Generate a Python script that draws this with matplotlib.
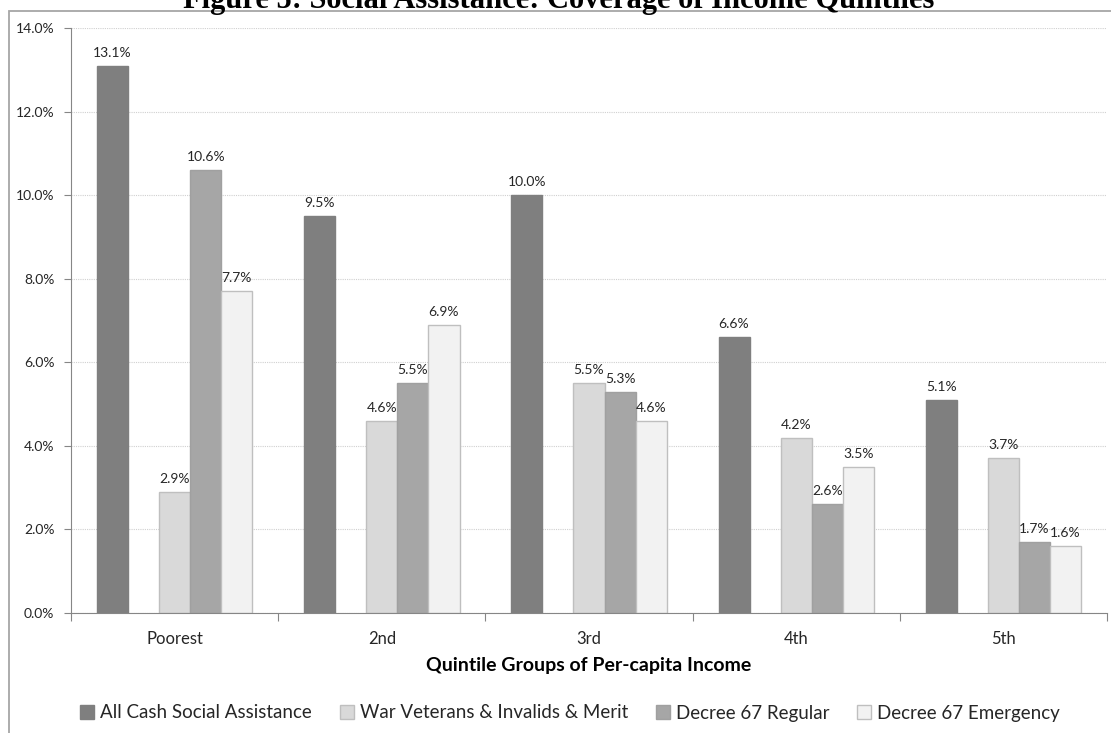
import matplotlib.pyplot as plt
from matplotlib.patches import Rectangle
from matplotlib.ticker import FixedLocator, FuncFormatter

quintiles = ["Poorest", "2nd", "3rd", "4th", "5th"]
all_cash = [13.1, 9.5, 10.0, 6.6, 5.1]
war_veterans = [2.9, 4.6, 5.5, 4.2, 3.7]
decree67_regular = [10.6, 5.5, 5.3, 2.6, 1.7]
decree67_emergency = [7.7, 6.9, 4.6, 3.5, 1.6]

series = [
    ("All Cash Social Assistance", all_cash, -0.30, "#7f7f7f", "#7f7f7f"),
    ("War Veterans & Invalids & Merit", war_veterans, 0.0, "#d9d9d9", "#bfbfbf"),
    ("Decree 67 Regular", decree67_regular, 0.15, "#a6a6a6", "#a0a0a0"),
    ("Decree 67 Emergency", decree67_emergency, 0.30, "#f2f2f2", "#bfbfbf"),
]

plt.rcParams["font.family"] = ["Lato", "DejaVu Sans"]
txt = "#262626"

fig = plt.figure(figsize=(11.11, 7.33), dpi=100)
ax = fig.add_axes([71 / 1111, 1 - 613 / 733, (1107 - 71) / 1111, (613 - 28) / 733])

# outer chart frame (cut off at right and bottom)
fig.patches.append(Rectangle((9 / 1111, -0.05), 1.1, 1 - 11 / 733 + 0.05,
                             transform=fig.transFigure, fill=False,
                             edgecolor="#a6a6a6", linewidth=1.3, zorder=0))

x = list(range(len(quintiles)))
width = 0.15
for name, vals, off, fc, ec in series:
    bars = ax.bar([i + off for i in x], vals, width, color=fc, edgecolor=ec,
                  linewidth=1, label=name, zorder=2)
    ax.bar_label(bars, labels=[f"{v:.1f}%" for v in vals], padding=5,
                 fontsize=10, color=txt)

ax.set_xlim(-0.5, 4.5)
ax.set_ylim(0, 14)
ax.yaxis.set_major_locator(FixedLocator([0, 2, 4, 6, 8, 10, 12, 14]))
ax.yaxis.set_major_formatter(FuncFormatter(lambda v, p: f"{v:.1f}%"))
ax.grid(axis="y", linestyle=(0, (1, 1)), color="#d0d0d0", linewidth=0.8, zorder=0)
ax.set_axisbelow(True)

ax.xaxis.set_major_locator(FixedLocator([-0.5, 0.5, 1.5, 2.5, 3.5, 4.5]))
ax.xaxis.set_major_formatter(FuncFormatter(lambda v, p: ""))
ax.xaxis.set_minor_locator(FixedLocator(x))
ax.set_xticklabels(quintiles, minor=True)
ax.tick_params(axis="x", which="major", length=6, color="#868686", direction="out")
ax.tick_params(axis="x", which="minor", length=0, pad=13, labelsize=12, labelcolor=txt)
ax.tick_params(axis="y", length=5, color="#868686", labelsize=10, labelcolor=txt, pad=7)

for s in ["top", "right"]:
    ax.spines[s].set_visible(False)
for s in ["left", "bottom"]:
    ax.spines[s].set_color("#868686")

ax.set_xlabel("Quintile Groups of Per-capita Income", fontsize=14,
              fontweight="bold", color="black", labelpad=7)

fig.legend(loc="center", bbox_to_anchor=(570 / 1111, 1 - 713 / 733), ncol=4,
           frameon=False, fontsize=13.5, handlelength=0.75, handleheight=0.75,
           handletextpad=0.3, columnspacing=1.5, labelcolor=txt)

fig.text(0.503, 1 - 8 / 733, "Figure 5: Social Assistance: Coverage of Income Quintiles",
         ha="center", va="baseline", fontsize=22, fontweight="bold",
         family=["Liberation Serif", "DejaVu Serif"], color="black")

fig.savefig("out.png", dpi=100)
